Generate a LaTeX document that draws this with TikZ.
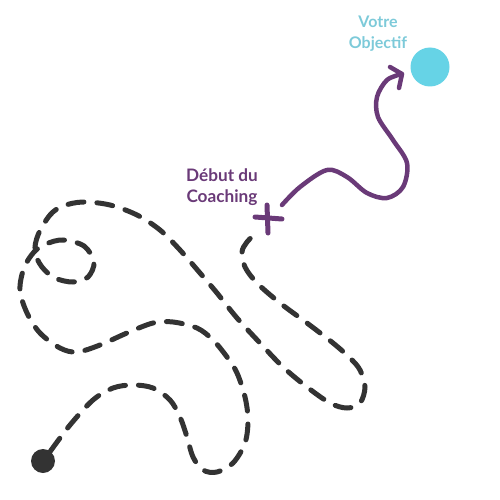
\documentclass[tikz,border=0pt]{standalone}
\usepackage{fontspec}
\setmainfont{Lato}
\definecolor{ink}{HTML}{333333}
\definecolor{plum}{HTML}{6A3A78}
\definecolor{goalc}{HTML}{66D3E6}
\definecolor{goalt}{HTML}{7DCAD9}
\begin{document}
\begin{tikzpicture}[x=1pt,y=-1pt,
  trail/.style={draw=ink,line width=5pt,line cap=round,dash pattern=on 16pt off 13pt},
  route/.style={draw=plum,line width=4.5pt,line cap=round,line join=round},
  lbl/.style={font=\fontsize{16}{21}\selectfont\bfseries,align=center,inner sep=0pt}]
\useasboundingbox (0,0) rectangle (500,500);
% nodes
\node[circle,fill=ink,minimum size=24pt,inner sep=0pt] (start) at (43,461) {};
\node[circle,fill=goalc,minimum size=39pt,inner sep=0pt] (goal) at (430,67) {};
\coordinate (cross) at (268,218);
\coordinate (trailend) at (257,232);
\coordinate (routestart) at (282,205);
\coordinate (tip) at (402,74);
\coordinate (barbA) at (390,67);
\coordinate (barbB) at (399,88);
\node[lbl,font=\fontsize{17.2}{21}\selectfont\bfseries,text=plum] (debut) at (222,187) {Début du\\Coaching};
\node[lbl,text=goalt] (obj) at (378,34) {Votre\\Objectif};
% dashed trail
\draw[trail] plot[smooth,tension=0.55] coordinates {
 (start.53) (70,425) (93,400) (113,388) (133,385) (153,388) (170,400) (180,417)
 (187,437) (193,457) (203,470) (217,472) (233,463) (245,443) (248,420) (245,397)
 (237,373) (227,357) (213,340) (197,328) (173,322) (153,323) (127,333) (100,345)
 (77,352) (60,348) (40,333) (27,313) (20,290) (24,268) (34,252) (46,244) (63,240)
 (84,246) (94,262) (88,277) (73,282) (55,278) (42,267) (35,252) (38,235) (50,215)
 (63,206) (83,202) (110,205) (137,215) (160,230) (180,250) (200,273) (217,293)
 (237,318) (260,343) (283,367) (307,387) (330,403) (347,408) (360,403) (365,387)
 (360,370) (350,358) (333,343) (307,323) (280,303) (257,283) (245,267) (242,252)
 (247,242) (trailend)};
% start cross
\draw[route,line width=5pt] (255,217) -- (282,219);
\draw[route,line width=5pt] (267,205) -- (268,233);
% purple route
\draw[route] plot[smooth,tension=0.55] coordinates {
 (routestart) (300,187) (327,170) (347,177) (367,193) (387,198) (403,187)
 (407,163) (393,140) (378,117) (377,97) (387,80) (tip)};
\draw[route] (barbA) -- (tip) -- (barbB);
\end{tikzpicture}
\end{document}
